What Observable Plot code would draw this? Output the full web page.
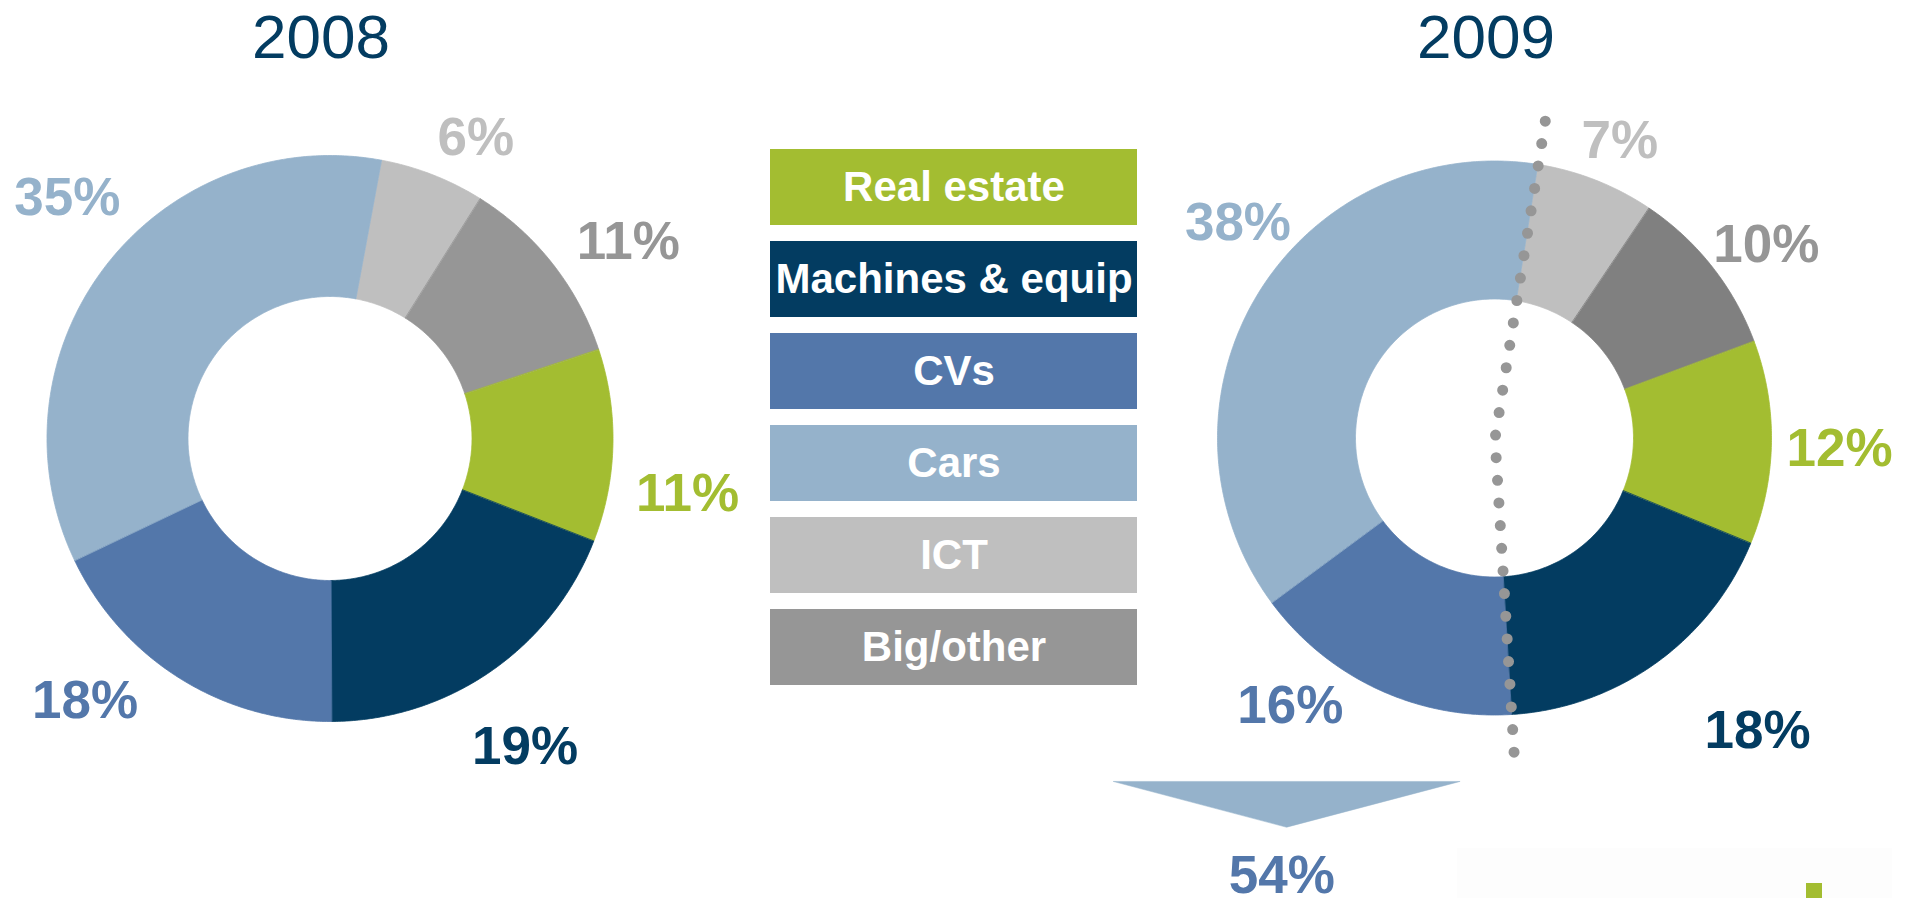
<!DOCTYPE html>
<html>
<head>
<meta charset="utf-8">
<script src="https://cdn.jsdelivr.net/npm/d3@7"></script>
<script src="https://cdn.jsdelivr.net/npm/@observablehq/plot@0.6"></script>
<style>
  html, body { margin: 0; padding: 0; background: #ffffff; }
  #root { position: relative; width: 1912px; height: 898px; overflow: hidden; font-family: "Liberation Sans", Arial, sans-serif; }
  .year { position: absolute; top: 6px; width: 300px; margin-left: -150px; text-align: center; font-size: 62px; line-height: 62px; color: #033c61; }
  .panel { position: absolute; }
  .panel svg { overflow: visible; background: transparent; }
  .faint { position: absolute; left: 1457px; top: 848px; width: 435px; height: 50px; background: #fdfdfd; }
  .mark { position: absolute; left: 1806px; top: 883px; width: 16px; height: 15px; background: #a3bd31; }
</style>
</head>
<body>
<div id="root"></div>
<script>
// ---------------- data ----------------
const years = ["2008", "2009"];
const categories = ["ICT", "Big/other", "Real estate", "Machines & equip", "CVs", "Cars"]; // clockwise from top
const legendOrder = ["Real estate", "Machines & equip", "CVs", "Cars", "ICT", "Big/other"];
const share2008 = [6, 11, 11, 19, 18, 35];
const share2009 = [7, 10, 12, 18, 16, 38];
const highlighted2009 = ["CVs", "Cars"]; // the half marked by the dotted line

// ---------------- styles ----------------
const FONT = "Liberation Sans, Arial, sans-serif";
const colors2008 = {
  "Real estate": "#a3bd31", "Machines & equip": "#033c61", "CVs": "#5377aa",
  "Cars": "#95b2cb", "ICT": "#bfbfbf", "Big/other": "#969696"
};
const colors2009 = {...colors2008, "Big/other": "#808080"};
const labelColors2008 = colors2008;
const labelColors2009 = {...colors2008};
const legendColors = colors2008;

// ---------------- layout ----------------
const H = 898;
const layout2008 = {
  left: 0, width: 760, cx: 330, cy: 438.5, R: 283, r: 142, start: 10.5, labelRadius: 1.27, titleX: 321,
  nudge: [[14.7, 33.7], [15, 24.8], [-2.2, 45.2], [-9, 11.4], [-54.4, -42.7], [22, -21.8]]
};
const layout2009 = {
  left: 1100, width: 812, cx: 394.5, cy: 438, R: 277, r: 139, start: 9.0, labelRadius: 1.27, titleX: 1486,
  nudge: [[-4, 30.2], [-5, 24.2], [-7.2, 5], [58, 6], [-55.8, -51.4], [43.6, -32.7]]
};
const arrowLayout = {left: -1.377, right: -0.126, top: 1.238, tip: 1.403, textX: -0.77, textY: 1.578};
const legendLayout = {left: 770, top: 148, width: 367, height: 537, gap: 0.176};

// ---------------- geometry helpers ----------------
function polar(angleDeg, radius) {
  const a = angleDeg * Math.PI / 180;
  return [radius * Math.sin(a), -radius * Math.cos(a)];
}
function sliceArcs(shares, start) {
  const total = d3.sum(shares);
  let acc = 0;
  return categories.map((cat, i) => {
    const a0 = start + acc / total * 360;
    acc += shares[i];
    const a1 = start + acc / total * 360;
    return {cat, value: shares[i], a0, a1, mid: (a0 + a1) / 2};
  });
}
function ringSamples(arcs, inner) {
  const pts = [];
  for (const s of arcs) {
    const n = Math.max(2, Math.ceil((s.a1 - s.a0) / 0.5));
    for (let k = 0; k <= n; k++) {
      const a = s.a0 + (s.a1 - s.a0) * k / n;
      const [xo, yo] = polar(a, 1);
      const [xi, yi] = polar(a, inner);
      pts.push({cat: s.cat, xo, yo, xi, yi});
    }
  }
  return pts;
}

function donut(cfg, shares, colors, labelColors, extra) {
  const arcs = sliceArcs(shares, cfg.start);
  const ring = ringSamples(arcs, cfg.r / cfg.R);
  const labels = arcs.map((s, i) => {
    const [x, y] = polar(s.mid, cfg.labelRadius);
    return {cat: s.cat, x: x + cfg.nudge[i][0] / cfg.R, y: y + cfg.nudge[i][1] / cfg.R, text: s.value + "%"};
  });
  const marks = [
    Plot.area(ring, {x1: "xo", y1: "yo", x2: "xi", y2: "yi", z: "cat",
      fill: d => colors[d.cat], stroke: d => colors[d.cat], strokeWidth: 0.8}),
    ...(extra ? extra(arcs) : []),
    Plot.text(labels, {x: "x", y: "y", text: "text", fill: d => labelColors[d.cat],
      fontSize: 53, fontWeight: "bold", fontFamily: FONT})
  ];
  return Plot.plot({
    width: cfg.width, height: H, margin: 0,
    x: {domain: [-cfg.cx / cfg.R, (cfg.width - cfg.cx) / cfg.R], range: [0, cfg.width], axis: null},
    y: {domain: [-cfg.cy / cfg.R, (H - cfg.cy) / cfg.R], range: [0, H], axis: null},
    color: {type: "identity"},
    style: {background: "transparent", overflow: "visible"},
    marks
  });
}

// 2009 annotations: dotted divider and the down arrow with the combined share
function extras2009(arcs) {
  const top = arcs[categories.indexOf("ICT")].a0;
  const bottom = arcs[categories.indexOf("CVs")].a0;
  const [tx, ty] = polar(top, 1.16);
  const [bx, by] = polar(bottom, 1.19);
  const divider = [{x: tx, y: ty}, {x: 0, y: 0}, {x: bx, y: by}];
  const tipX = (arrowLayout.left + arrowLayout.right) / 2;
  const arrow = [
    {x: arrowLayout.left, y: arrowLayout.top},
    {x: arrowLayout.right, y: arrowLayout.top},
    {x: tipX, y: arrowLayout.tip}
  ];
  const combined = d3.sum(highlighted2009, c => share2009[categories.indexOf(c)]);
  return [
    Plot.line(divider, {x: "x", y: "y", stroke: "#969696", strokeWidth: 11,
      strokeLinecap: "round", strokeDasharray: "0 22.7"}),
    Plot.line(arrow, {x: "x", y: "y", fill: "#95b2cb", stroke: "#95b2cb", strokeWidth: 0.5, curve: "linear-closed"}),
    Plot.text([combined + "%"], {x: () => arrowLayout.textX, y: () => arrowLayout.textY, text: d => d,
      fill: "#5377aa", fontSize: 53, fontWeight: "bold", fontFamily: FONT})
  ];
}

// ---------------- assemble ----------------
const root = document.getElementById("root");

function place(node, left, top) {
  const wrap = document.createElement("div");
  wrap.className = "panel";
  wrap.style.left = left + "px";
  wrap.style.top = top + "px";
  wrap.appendChild(node);
  root.appendChild(wrap);
}

const faint = document.createElement("div");
faint.className = "faint";
root.appendChild(faint);

place(donut(layout2008, share2008, colors2008, labelColors2008), layout2008.left, 0);

const legend = Plot.plot({
  width: legendLayout.width, height: legendLayout.height, margin: 0,
  y: {type: "band", domain: legendOrder, range: [0, legendLayout.height],
      paddingInner: legendLayout.gap, paddingOuter: 0, axis: null},
  color: {type: "identity"},
  style: {background: "transparent", overflow: "visible"},
  marks: [
    Plot.cell(legendOrder, {y: d => d, fill: d => legendColors[d], inset: 0}),
    Plot.text(legendOrder, {y: d => d, text: d => d, fill: "white", fontSize: 42,
      fontWeight: "bold", fontFamily: FONT})
  ]
});
place(legend, legendLayout.left, legendLayout.top);

place(donut(layout2009, share2009, colors2009, labelColors2009, extras2009), layout2009.left, 0);

[layout2008, layout2009].forEach((cfg, i) => {
  const t = document.createElement("div");
  t.className = "year";
  t.style.left = cfg.titleX + "px";
  t.textContent = years[i];
  root.appendChild(t);
});

const mark = document.createElement("div");
mark.className = "mark";
root.appendChild(mark);
</script>
</body>
</html>
